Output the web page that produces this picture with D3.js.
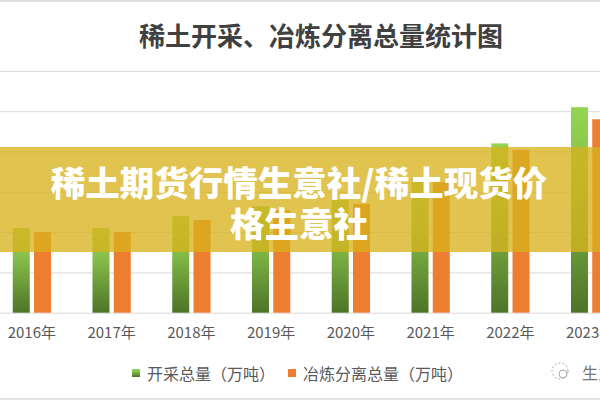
<!DOCTYPE html>
<html>
<head>
<meta charset="utf-8">
<script src="https://cdn.jsdelivr.net/npm/d3@7"></script>
<style>
html,body{margin:0;padding:0;background:#fff;}
svg{display:block;}
</style>
</head>
<body>
<svg id="chart" width="600" height="400"></svg>
<script>
// ---- data ----
const years = ["2016年","2017年","2018年","2019年","2020年","2021年","2022年","2023年"];
const mining = [10.5, 10.5, 12, 13.2, 14, 16.8, 21, 25.5];
const smelting = [10, 10, 11.5, 12.7, 13.5, 16.2, 20.2, 24];
const seriesNames = ["开采总量（万吨）", "冶炼分离总量（万吨）"];
const yTicks = [0, 5, 10, 15, 20, 25, 30];
const titleText = "稀土开采、冶炼分离总量统计图";
const overlayLines = ["稀土期货行情生意社/稀土现货价", "格生意社"];
const watermark = "生意社";

const font = "'Noto Sans CJK SC','Noto Sans',sans-serif";
const svg = d3.select("#chart");
const W = 600, H = 400;

// gradient for green bars
const defs = svg.append("defs");
const g1 = defs.append("linearGradient").attr("id","greenGrad")
  .attr("x1",0).attr("y1",0).attr("x2",0).attr("y2",1);
g1.append("stop").attr("offset","0%").attr("stop-color","#94d452");
g1.append("stop").attr("offset","35%").attr("stop-color","#86bf4a");
g1.append("stop").attr("offset","100%").attr("stop-color","#4d7428");

// frame strips
svg.append("rect").attr("x",0).attr("y",0).attr("width",W).attr("height",2).attr("fill","#dedede");
svg.append("rect").attr("x",0).attr("y",398).attr("width",W).attr("height",2).attr("fill","#e2e2e2");

// scales
const x = d3.scaleBand().domain(years).range([-8, 630]).paddingInner(0.52).paddingOuter(0.26);
const xi = d3.scaleBand().domain(seriesNames).range([0, x.bandwidth()]).paddingInner(0.2);
const y = d3.scaleLinear().domain([0, 30]).range([312.7, 70.9]);

// gridlines via axis
const grid = svg.append("g").attr("transform","translate(-10,0)")
  .call(d3.axisRight(y).tickValues(yTicks).tickSize(630).tickFormat(""));
grid.select(".domain").remove();
grid.selectAll(".tick line").attr("stroke","#d9d9d9").attr("stroke-width",1);

// bars
const colors = ["url(#greenGrad)", "#ed7d31"];
const seriesData = [mining, smelting];
seriesNames.forEach((s, si) => {
  svg.append("g").selectAll("rect")
    .data(years.map((yr, i) => ({yr, v: seriesData[si][i]})))
    .join("rect")
    .attr("x", d => x(d.yr) + xi(s))
    .attr("width", xi.bandwidth())
    .attr("y", d => y(d.v))
    .attr("height", d => y(0) - y(d.v))
    .attr("fill", colors[si]);
});

// x axis labels
const xa = svg.append("g").attr("transform","translate(0,313)")
  .call(d3.axisBottom(x).tickSize(0).tickPadding(14));
xa.select(".domain").remove();
xa.selectAll("text").attr("font-family", font).attr("font-size", 15).attr("fill","#595959");

// title
svg.append("text").attr("x", 321).attr("y", 34).attr("text-anchor","middle")
  .attr("dominant-baseline","central")
  .attr("font-family", font).attr("font-size", 26).attr("font-weight", 600)
  .attr("fill","#404040").text(titleText);

// legend
const leg = svg.append("g");
const legX = [132, 288];
seriesNames.forEach((s, i) => {
  leg.append("rect").attr("x", legX[i]).attr("y", 369).attr("width", 8).attr("height", 8).attr("fill", colors[i]);
  leg.append("text").attr("x", legX[i] + 15).attr("y", 373).attr("dominant-baseline","central")
    .attr("font-family", font).attr("font-size", 16).attr("fill","#595959").text(s);
});

// watermark
const wm = svg.append("g").attr("fill","none").attr("stroke","#aaa").attr("stroke-width",1);
wm.append("circle").attr("cx",560).attr("cy",371).attr("r",8).attr("stroke-dasharray","2,2");
wm.append("circle").attr("cx",563).attr("cy",374).attr("r",4);
svg.append("text").attr("x",582).attr("y",372).attr("dominant-baseline","central")
  .attr("font-family", font).attr("font-size", 16).attr("fill","#777").text(watermark);

// overlay band
svg.append("rect").attr("x",0).attr("y",147).attr("width",W).attr("height",105)
  .attr("fill","rgb(216,178,30)").attr("fill-opacity",0.78);
overlayLines.forEach((t, i) => {
  svg.append("text").attr("x", 299).attr("y", 181 + i*41).attr("text-anchor","middle")
    .attr("dominant-baseline","central")
    .attr("font-family", font).attr("font-size", 34.5).attr("font-weight", 900)
    .attr("fill","#ffffff").text(t);
});
</script>
</body>
</html>
